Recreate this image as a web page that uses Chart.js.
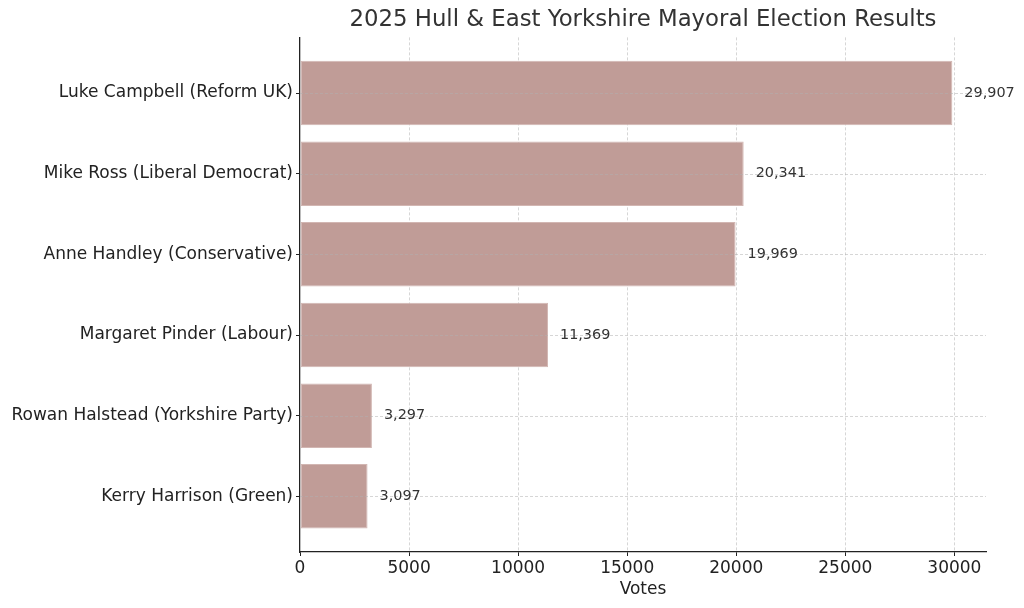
<!DOCTYPE html>
<html>
<head>
<meta charset="utf-8">
<script src="https://cdn.jsdelivr.net/npm/chart.js@4.4.1/dist/chart.umd.min.js"></script>
<style>
  html, body { margin: 0; padding: 0; background: #fff; }
  #wrap { width: 1024px; height: 608px; }
</style>
</head>
<body>
<div id="wrap"><canvas id="c" width="1024" height="608"></canvas></div>
<script>
const candidates = [
  "Luke Campbell (Reform UK)",
  "Mike Ross (Liberal Democrat)",
  "Anne Handley (Conservative)",
  "Margaret Pinder (Labour)",
  "Rowan Halstead (Yorkshire Party)",
  "Kerry Harrison (Green)"
];
const votes = [29907, 20341, 19969, 11369, 3297, 3097];
const xTicks = [0, 5000, 10000, 15000, 20000, 25000, 30000];

const FONT = "'DejaVu Sans', sans-serif";
const GRID = 'rgba(176,176,176,0.65)';

function dashedLine(ctx, x1, y1, x2, y2) {
  ctx.beginPath();
  ctx.moveTo(x1, y1);
  ctx.lineTo(x2, y2);
  ctx.stroke();
}

const gridAndLabels = {
  id: 'gridAndLabels',
  beforeDatasetsDraw(chart) {
    const ctx = chart.ctx;
    const xScale = chart.scales.x;
    const area = chart.chartArea;
    ctx.save();
    ctx.strokeStyle = GRID;
    ctx.lineWidth = 0.8;
    ctx.setLineDash([3, 2]);
    xTicks.forEach(v => {
      if (v === 0) return;
      const px = Math.round(xScale.getPixelForValue(v)) + 0.5;
      dashedLine(ctx, px, area.top, px, area.bottom);
    });
    ctx.restore();
  },
  afterDatasetsDraw(chart) {
    const ctx = chart.ctx;
    const meta = chart.getDatasetMeta(0);
    const yScale = chart.scales.y;
    const area = chart.chartArea;
    ctx.save();
    ctx.strokeStyle = GRID;
    ctx.lineWidth = 0.8;
    ctx.setLineDash([3, 2]);
    candidates.forEach((_, i) => {
      const py = Math.round(yScale.getPixelForValue(i)) + 0.5;
      dashedLine(ctx, area.left, py, area.right, py);
    });
    ctx.restore();
    ctx.save();
    ctx.font = "14.4px " + FONT;
    ctx.fillStyle = '#333';
    ctx.textBaseline = 'middle';
    ctx.textAlign = 'left';
    meta.data.forEach((bar, i) => {
      ctx.fillText(votes[i].toLocaleString('en-US'), bar.x + 12, bar.y);
    });
    ctx.restore();
  }
};

new Chart(document.getElementById('c'), {
  type: 'bar',
  data: {
    datasets: [{
      data: votes.map((v, i) => ({ x: v, y: i })),
      backgroundColor: '#c09c97',
      borderColor: '#d2b6b2',
      borderWidth: 1,
      borderSkipped: false,
      barPercentage: 0.8,
      categoryPercentage: 1.0
    }]
  },
  options: {
    indexAxis: 'y',
    responsive: false,
    animation: false,
    devicePixelRatio: 1,
    layout: { padding: { left: 0, right: 38, top: 0, bottom: 6 } },
    plugins: {
      legend: { display: false },
      tooltip: { enabled: false },
      title: {
        display: true,
        text: '2025 Hull & East Yorkshire Mayoral Election Results',
        color: '#333',
        font: { family: FONT, size: 22.8, weight: 'normal' },
        padding: { top: 6, bottom: 4 },
        fullSize: false
      }
    },
    scales: {
      x: {
        type: 'linear',
        min: 0,
        max: 31450,
        afterBuildTicks(scale) { scale.ticks = xTicks.map(v => ({ value: v })); },
        afterFit(scale) { scale.height = 50; },
        ticks: {
          color: '#222',
          font: { family: FONT, size: 17 },
          padding: 2,
          maxRotation: 0,
          callback: v => String(v)
        },
        grid: {
          drawOnChartArea: false,
          tickColor: '#222',
          tickLength: 4,
          tickWidth: 1
        },
        border: { display: true, color: '#222', width: 1.3 },
        title: {
          display: true,
          text: 'Votes',
          color: '#222',
          font: { family: FONT, size: 17 },
          padding: { top: 0, bottom: 2 }
        }
      },
      y: {
        type: 'linear',
        offset: false,
        min: -0.69,
        max: 5.69,
        reverse: true,
        afterBuildTicks(scale) { scale.ticks = candidates.map((_, i) => ({ value: i })); },
        afterFit(scale) { scale.width = 300; },
        ticks: {
          color: '#222',
          font: { family: FONT, size: 17 },
          padding: 3,
          callback: v => candidates[v]
        },
        grid: {
          offset: false,
          drawOnChartArea: false,
          tickColor: '#222',
          tickLength: 4,
          tickWidth: 1
        },
        border: { display: true, color: '#222', width: 1.3 }
      }
    }
  },
  plugins: [gridAndLabels]
});
</script>
</body>
</html>
